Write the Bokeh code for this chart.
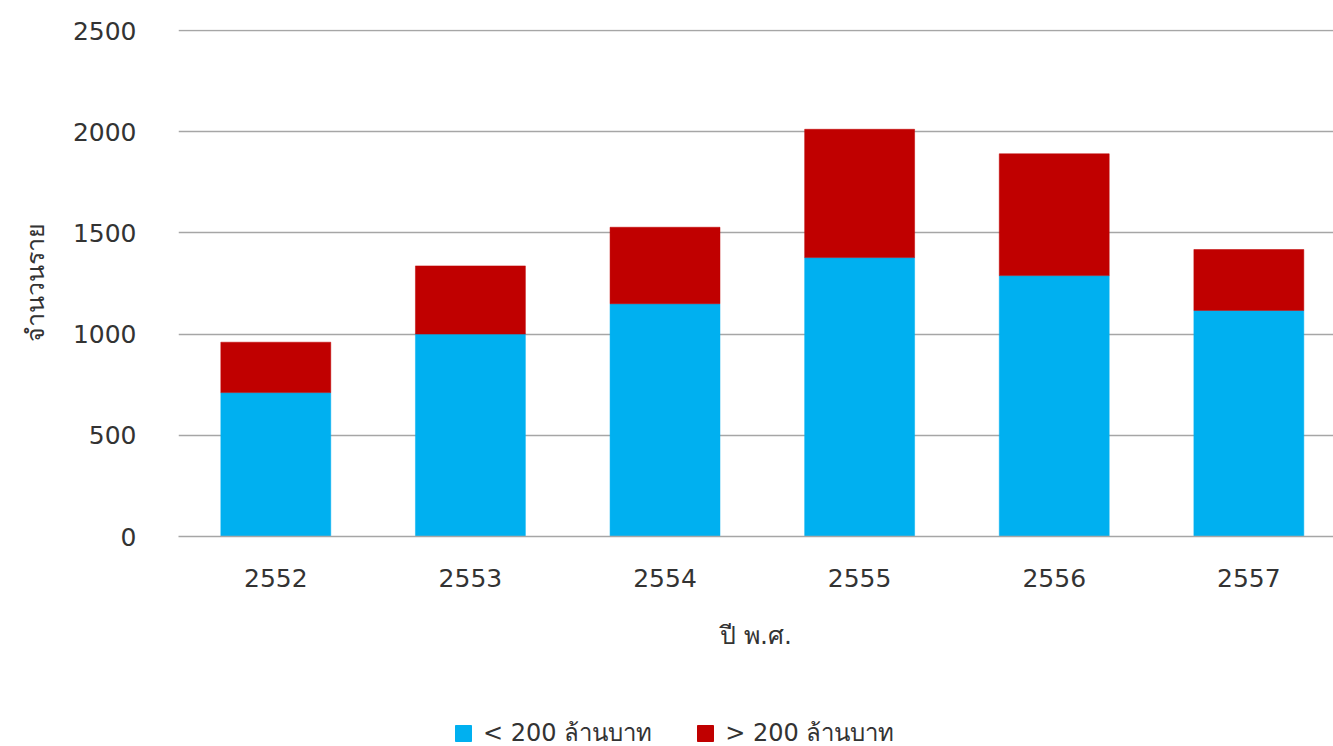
from bokeh.plotting import figure
from bokeh.layouts import column
from bokeh.models import Range1d, FixedTicker, Legend, LegendItem, ColumnDataSource
from bokeh.embed import file_html
from bokeh.resources import INLINE

years = ["2552", "2553", "2554", "2555", "2556", "2557"]
below_200 = [711, 1000, 1150, 1378, 1289, 1117]
above_200 = [249, 337, 378, 634, 602, 301]
y_ticks = [0, 500, 1000, 1500, 2000, 2500]
series_names = ["< 200 ล้านบาท", "> 200 ล้านบาท"]
colors = ["#00B0F0", "#C00000"]

xs = list(range(len(years)))
source = ColumnDataSource(dict(x=xs, below=below_200, above=above_200))

FONT = "DejaVu Sans"
TXT = "#333333"

p = figure(frame_width=1155, frame_height=507, output_backend="svg", toolbar_location=None,
           x_range=Range1d(-0.5, 5.435), y_range=Range1d(0, 2505),
           min_border_left=178, min_border_right=0, min_border_top=29, min_border_bottom=0)
p.outline_line_color = None
p.background_fill_color = "white"

rs = p.vbar_stack(["below", "above"], x="x", width=0.565, source=source,
                  fill_color=colors, line_color=colors, line_width=0.5)

p.xgrid.grid_line_color = None
p.ygrid.grid_line_color = "#A6A6A6"
p.ygrid.grid_line_width = 1.5
p.yaxis.ticker = FixedTicker(ticks=y_ticks)
p.xaxis.ticker = FixedTicker(ticks=xs)
p.xaxis.major_label_overrides = {i: y for i, y in enumerate(years)}

for ax in (p.xaxis[0], p.yaxis[0]):
    ax.major_tick_line_color = None
    ax.minor_tick_line_color = None
    ax.major_label_text_font = FONT
    ax.major_label_text_font_size = "25px"
    ax.major_label_text_color = TXT
    ax.axis_label_text_font = FONT
    ax.axis_label_text_font_size = "25px"
    ax.axis_label_text_font_style = "normal"
    ax.axis_label_text_color = TXT

p.yaxis.axis_line_color = None
p.yaxis.major_label_standoff = 36
p.yaxis.axis_label = "จำนวนราย"
p.yaxis.axis_label_standoff = 20

p.xaxis.axis_line_color = "#A6A6A6"
p.xaxis.axis_line_width = 1.5
p.xaxis.major_label_standoff = 26
p.xaxis.axis_label = "ปี พ.ศ."
p.xaxis.axis_label_standoff = 31

# legend strip below the chart (its swatch renderers sit outside the visible range)
p2 = figure(frame_width=1155, frame_height=100, output_backend="svg", toolbar_location=None,
            x_range=Range1d(0, 1), y_range=Range1d(0, 1),
            x_axis_location=None, y_axis_location=None,
            min_border_left=178, min_border_right=0, min_border_top=0, min_border_bottom=0)
p2.outline_line_color = None
p2.xgrid.visible = False
p2.ygrid.visible = False
legend_renderers = [p2.vbar(x=[5], top=[1], width=0.5, fill_color=c, line_color=c) for c in colors]

legend = Legend(items=[LegendItem(label=series_names[i], renderers=[legend_renderers[i]]) for i in range(2)],
                orientation="horizontal", location=(275, 0),
                label_text_font=FONT, label_text_font_size="24px", label_text_color=TXT,
                glyph_width=20, glyph_height=20, label_height=20, label_standoff=10,
                spacing=43, padding=2, margin=0,
                border_line_color=None, background_fill_alpha=0)
p2.add_layout(legend, "center")

open("out.html", "w").write(file_html(column(p, p2, spacing=0), INLINE))
